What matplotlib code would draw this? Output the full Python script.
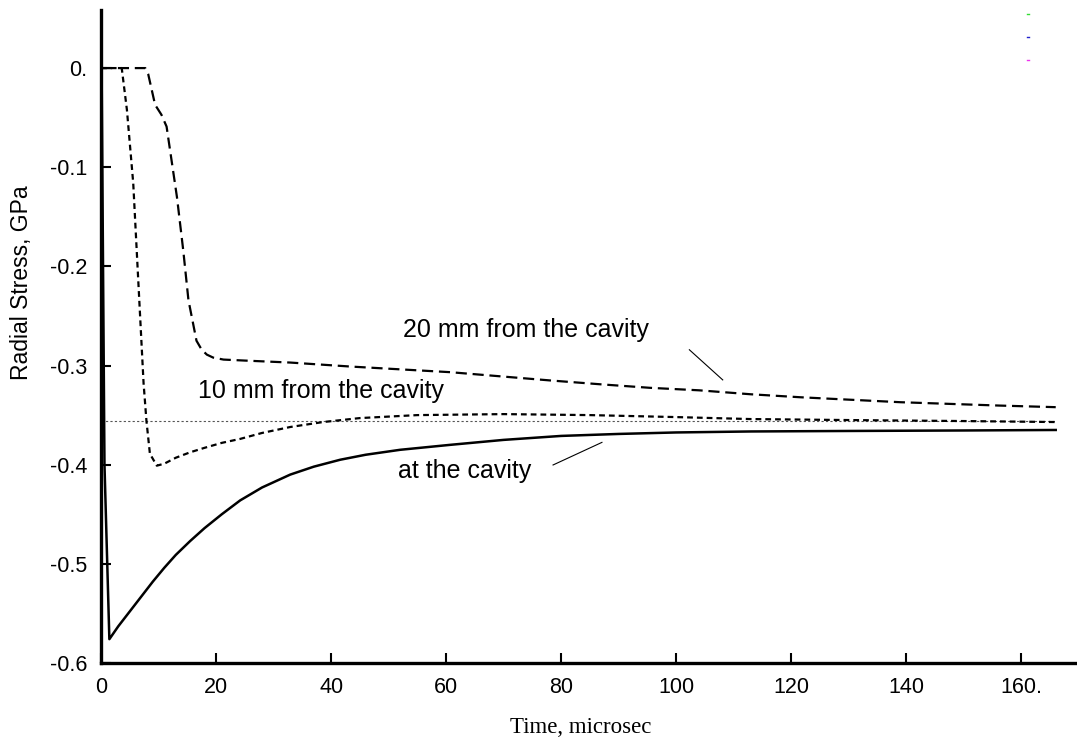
import matplotlib.pyplot as plt

plt.rcParams['font.family'] = ['Liberation Sans', 'DejaVu Sans']

# =========================================
# Data
# =========================================

# at the cavity (solid)
t_cavity = [0, 0.1, 0.6, 1.45, 3, 5, 7, 9, 11, 13, 15.5, 18, 21, 24.2, 28, 32.9,
            37, 41.6, 46, 52, 60.7, 70, 80, 90, 100, 113, 130, 150, 166]
s_cavity = [0, 0, -0.40, -0.576, -0.563, -0.548, -0.533, -0.518, -0.504, -0.491,
            -0.477, -0.464, -0.450, -0.436, -0.423, -0.410, -0.402, -0.395, -0.390,
            -0.385, -0.380, -0.375, -0.371, -0.369, -0.3675, -0.3665, -0.366,
            -0.3655, -0.365]

# 10 mm from the cavity (short dashes)
t_10mm = [0, 3.6, 4.5, 5.6, 6.5, 7.4, 7.9, 8.5, 9.7, 11, 13, 15.5, 18, 21, 24.2,
          28, 32.9, 38.6, 45, 55, 70, 85, 100, 113, 130, 150, 166]
s_10mm = [0, 0, -0.042, -0.116, -0.217, -0.318, -0.356, -0.389, -0.401, -0.399,
          -0.393, -0.3875, -0.383, -0.378, -0.374, -0.368, -0.362, -0.357, -0.353,
          -0.350, -0.349, -0.350, -0.352, -0.354, -0.355, -0.356, -0.357]

# 20 mm from the cavity (long dashes)
t_20mm = [0, 7.7, 8.2, 9.4, 10.5, 11.4, 13.2, 14.3, 15.2, 16.6, 17.5, 18.4, 19.5,
          21.3, 25, 32.9, 43.3, 60.7, 78, 87, 95.5, 104, 113, 121.6, 139, 156.3, 166]
s_20mm = [0, 0, -0.006, -0.037, -0.047, -0.059, -0.13, -0.184, -0.234, -0.275,
          -0.284, -0.289, -0.292, -0.294, -0.295, -0.297, -0.301, -0.3067, -0.315,
          -0.319, -0.3225, -0.325, -0.329, -0.332, -0.337, -0.3404, -0.342]

# reference level (thin dotted)
t_ref = [0, 166]
s_ref = [-0.3556, -0.3556]

xticks = [0, 20, 40, 60, 80, 100, 120, 140, 160]
xtick_labels = ['0', '20', '40', '60', '80', '100', '120', '140', '160.']
yticks = [0, -0.1, -0.2, -0.3, -0.4, -0.5, -0.6]
ytick_labels = ['0.', '-0.1', '-0.2', '-0.3', '-0.4', '-0.5', '-0.6']

# =========================================
# Plot
# =========================================

fig = plt.figure(figsize=(10.77, 7.45), dpi=100)
ax = fig.add_axes([0.0938, 0.1101, 0.9062, 0.8765])

ax.plot(t_ref, s_ref, color='#555555', lw=0.8, linestyle=(0, (2, 2)))
ax.plot(t_20mm, s_20mm, color='black', lw=1.6, linestyle=(0, (5, 2.6)))
ax.plot(t_10mm, s_10mm, color='black', lw=1.6, linestyle=(0, (2.6, 1.8)))
ax.plot(t_cavity, s_cavity, color='black', lw=1.8, linestyle='-')

ax.set_xlim(0, 169.7)
ax.set_ylim(-0.6, 0.0586)

ax.set_xticks(xticks)
ax.set_xticklabels(xtick_labels)
ax.set_yticks(yticks)
ax.set_yticklabels(ytick_labels)

ax.tick_params(direction='in', length=7, width=1.5, labelsize=15.5, pad=10)

for side in ['top', 'right']:
    ax.spines[side].set_visible(False)
for side in ['left', 'bottom']:
    ax.spines[side].set_linewidth(2.4)

ax.set_ylabel('Radial Stress, GPa', fontsize=16.5)
ax.yaxis.set_label_coords(-0.07, 0.583)
ax.set_xlabel('Time, microsec', fontsize=16.5, family=['Liberation Serif', 'DejaVu Serif'])
ax.xaxis.set_label_coords(0.491, -0.083)

# curve labels
ax.text(52.5, -0.2646, '20 mm from the cavity', fontsize=18, ha='left', va='center')
ax.text(16.9, -0.326, '10 mm from the cavity', fontsize=18, ha='left', va='center')
ax.text(51.7, -0.406, 'at the cavity', fontsize=18, ha='left', va='center')
ax.plot([102.3, 108.1], [-0.2841, -0.3145], color='black', lw=0.8)
ax.plot([78.6, 87.1], [-0.4003, -0.3775], color='black', lw=0.8)

# tiny legend artefacts in the top right corner
for yy, cc in [(14, '#33dd33'), (37, '#2222cc'), (60, '#ee33ee')]:
    fig.add_artist(plt.Line2D([1027 / 1077, 1029 / 1077], [1 - yy / 745, 1 - yy / 745],
                              color=cc, lw=1))

plt.savefig('out.png', dpi=100)
